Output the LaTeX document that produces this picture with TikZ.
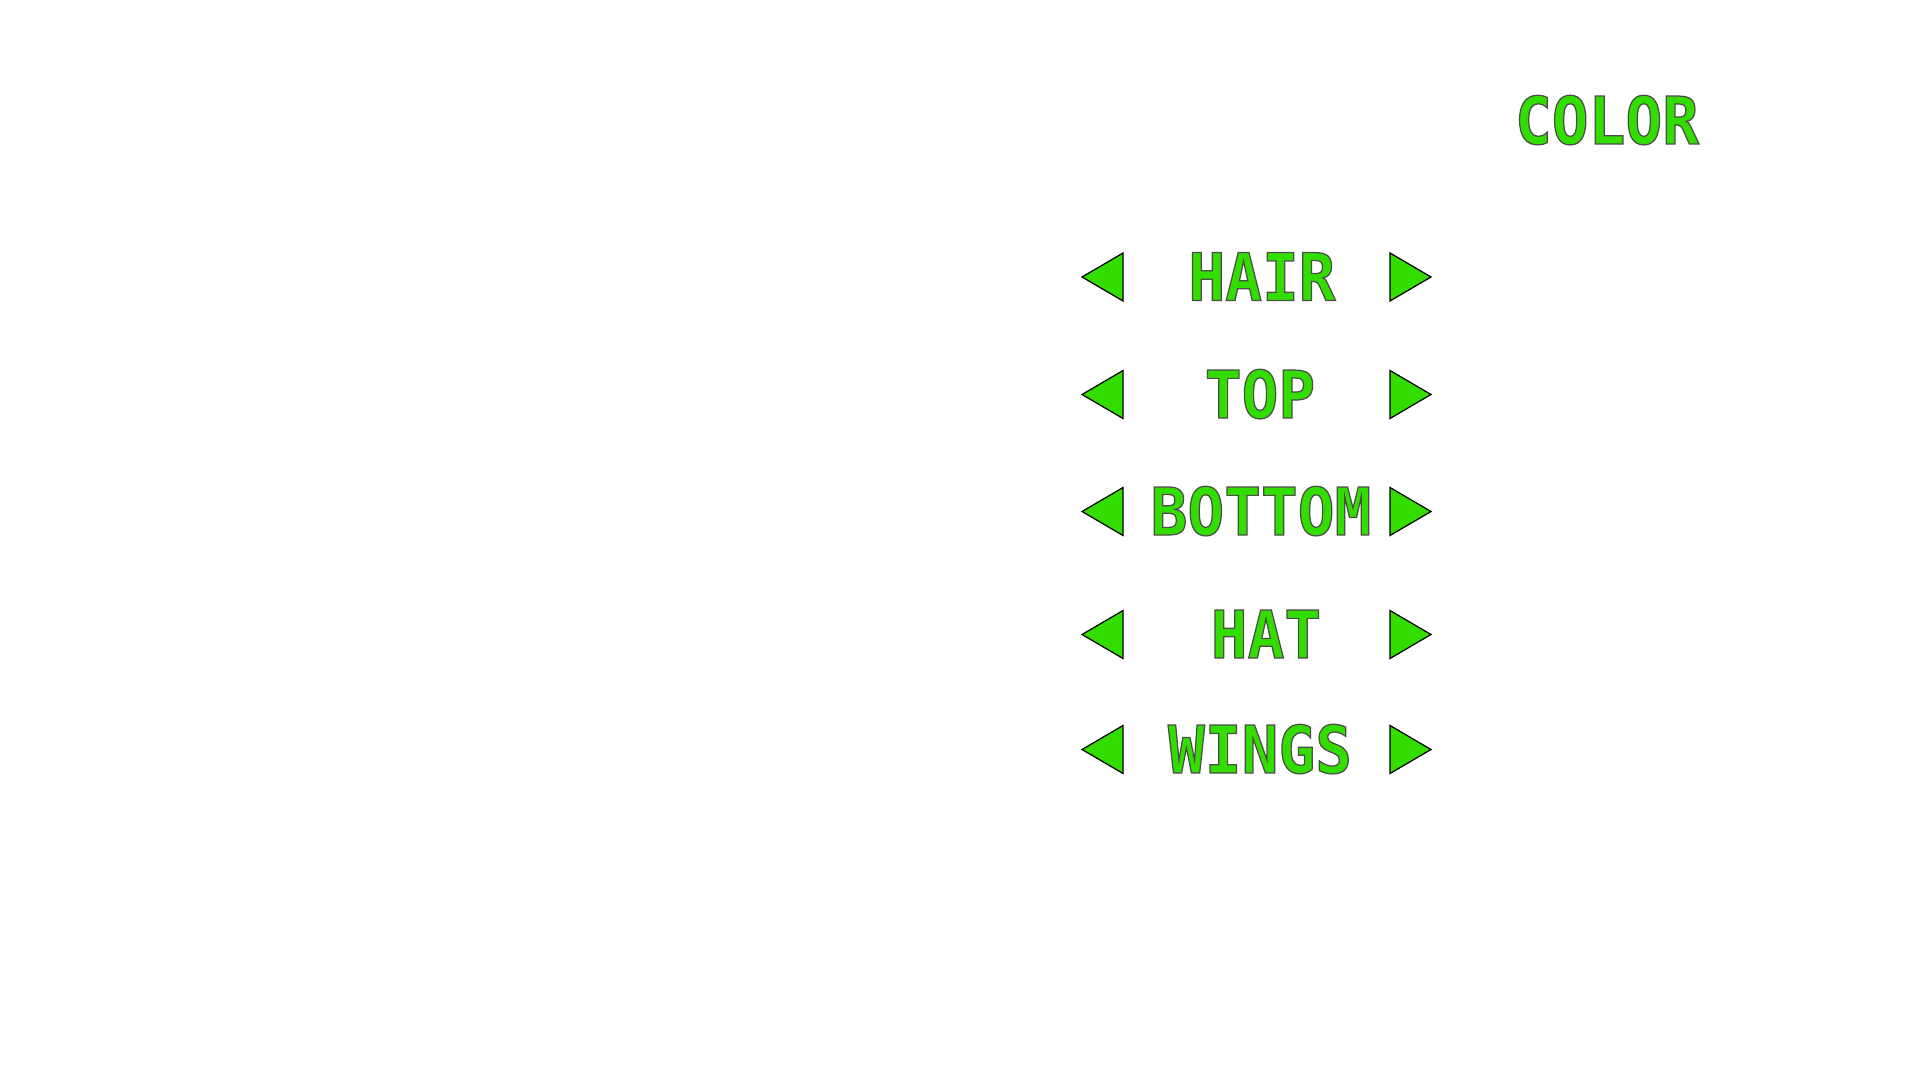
\documentclass[tikz,border=0pt]{standalone}
\usepackage{fontspec}
\newfontfamily\menufont{DejaVu Sans Mono}[FakeStretch=0.93]
\definecolor{menugreen}{RGB}{51,221,0}
% fill and stroke the glyphs
\newcommand\outlined[1]{\special{pdf:literal direct 2 Tr 0.35 w 0.3 0.3 0.3 RG}#1\special{pdf:literal direct 0 Tr}}

\begin{document}
\begin{tikzpicture}[
    menu/.style={text=menugreen, font=\menufont\bfseries\fontsize{18.7}{22}\selectfont, anchor=base, inner sep=0pt},
    tri/.style={fill=menugreen, draw=black, line width=0.35pt, line join=miter}
  ]
  \useasboundingbox (0,0) rectangle (19.2,-10.8);

  % title
  \node[menu] (color) at (16.07,-1.44) {\outlined{COLOR}};

  % menu rows with left and right arrows
  \foreach \x/\y/\name/\txt in {12.62/2.77/hair/HAIR, 12.60/3.945/top/TOP, 12.61/5.115/bottom/BOTTOM, 12.66/6.345/hat/HAT, 12.60/7.495/wings/WINGS} {
    \node[menu] (\name) at (\x,-\y-0.235) {\outlined{\txt}};
    \coordinate (\name-l) at (10.82,-\y);
    \coordinate (\name-r) at (14.31,-\y);
    \draw[tri] (\name-l) -- ++(0.41,0.24) -- ++(0,-0.48) -- cycle;
    \draw[tri] (\name-r) -- ++(-0.41,0.24) -- ++(0,-0.48) -- cycle;
  }
\end{tikzpicture}
\end{document}
